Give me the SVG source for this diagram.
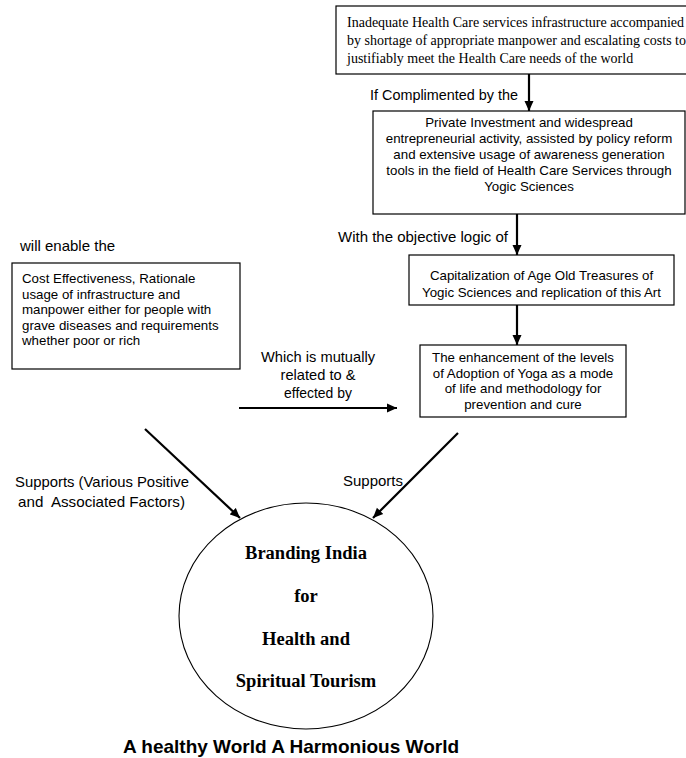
<svg xmlns="http://www.w3.org/2000/svg" width="686" height="758" viewBox="0 0 686 758">
  <style>
    .box { fill: #ffffff; stroke: #000000; stroke-width: 1.2; }
    .serif { font-family: "Liberation Serif", "Times New Roman", serif; font-size: 14px; fill: #000; }
    .body { font-family: "Liberation Sans", Arial, sans-serif; font-size: 13.3px; fill: #000; }
    .label { font-family: "Liberation Sans", Arial, sans-serif; font-size: 15px; fill: #000; }
    .title { font-family: "Liberation Serif", "Times New Roman", serif; font-size: 18.5px; font-weight: bold; fill: #000; }
    .footer { font-family: "Liberation Sans", Arial, sans-serif; font-size: 19px; font-weight: bold; fill: #000; }
    .link { fill: none; stroke: #000000; stroke-width: 2.2; }
    .mid { text-anchor: middle; }
  </style>
  <defs>
    <marker id="head" markerUnits="userSpaceOnUse" markerWidth="12" markerHeight="10" refX="10" refY="5" orient="auto">
      <path d="M0,0.5 L10,5 L0,9.5 Z" fill="#000000"/>
    </marker>
  </defs>

  <rect width="686" height="758" fill="#ffffff"/>

  <!-- problem statement -->
  <g id="node-problem">
    <rect class="box" x="336" y="6" width="352" height="68"/>
    <text class="serif" x="347" y="27">Inadequate Health Care services infrastructure accompanied</text>
    <text class="serif" x="347" y="45">by shortage of appropriate manpower and escalating costs to</text>
    <text class="serif" x="347" y="63">justifiably meet the Health Care needs of the world</text>
  </g>

  <!-- private investment -->
  <g id="node-investment">
    <rect class="box" x="373" y="111" width="312" height="103"/>
    <text class="body mid" x="529" y="127">Private Investment and widespread</text>
    <text class="body mid" x="529" y="143">entrepreneurial activity, assisted by policy reform</text>
    <text class="body mid" x="529" y="159">and extensive usage of awareness generation</text>
    <text class="body mid" x="529" y="175">tools in the field of Health Care Services through</text>
    <text class="body mid" x="529" y="191">Yogic Sciences</text>
  </g>

  <!-- capitalization -->
  <g id="node-capitalization">
    <rect class="box" x="409" y="255" width="265" height="50"/>
    <text class="body mid" x="541.5" y="280">Capitalization of Age Old Treasures of</text>
    <text class="body mid" x="541.5" y="297">Yogic Sciences and replication of this Art</text>
  </g>

  <!-- adoption of yoga -->
  <g id="node-adoption">
    <rect class="box" x="420" y="345" width="206" height="72"/>
    <text class="body mid" x="523" y="362">The enhancement of the levels</text>
    <text class="body mid" x="523" y="377.7">of Adoption of Yoga as a mode</text>
    <text class="body mid" x="523" y="393.4">of life and methodology for</text>
    <text class="body mid" x="523" y="409">prevention and cure</text>
  </g>

  <!-- cost effectiveness -->
  <g id="node-cost">
    <rect class="box" x="12" y="263" width="228" height="106"/>
    <text class="body" x="22" y="283">Cost Effectiveness, Rationale</text>
    <text class="body" x="22" y="298.5">usage of infrastructure and</text>
    <text class="body" x="22" y="314">manpower either for people with</text>
    <text class="body" x="22" y="329.5">grave diseases and requirements</text>
    <text class="body" x="22" y="345">whether poor or rich</text>
  </g>

  <!-- central goal -->
  <g id="node-branding">
    <ellipse cx="306" cy="616" rx="127" ry="113" fill="#ffffff" stroke="#000000" stroke-width="1.1"/>
    <text class="title mid" x="306" y="559">Branding India</text>
    <text class="title mid" x="306" y="602">for</text>
    <text class="title mid" x="306" y="645">Health and</text>
    <text class="title mid" x="306" y="687">Spiritual Tourism</text>
  </g>

  <!-- connectors -->
  <g id="connectors">
    <line class="link" x1="529" y1="74" x2="529" y2="111" marker-end="url(#head)"/>
    <line class="link" x1="517" y1="214" x2="517" y2="255" marker-end="url(#head)"/>
    <line class="link" x1="517" y1="305" x2="517" y2="345" marker-end="url(#head)"/>
    <line class="link" x1="239" y1="408" x2="397" y2="408" marker-end="url(#head)"/>
    <line class="link" x1="145" y1="429" x2="240" y2="518" marker-end="url(#head)"/>
    <line class="link" x1="458" y1="433" x2="373" y2="518" marker-end="url(#head)"/>
  </g>

  <!-- connector labels -->
  <g id="labels">
    <text class="label" x="370" y="100" textLength="148" lengthAdjust="spacingAndGlyphs">If Complimented by the</text>
    <text class="label" x="338" y="242" textLength="170" lengthAdjust="spacingAndGlyphs">With the objective logic of</text>
    <text class="label" x="20" y="251">will enable the</text>
    <text class="label mid" x="318" y="362" textLength="114" lengthAdjust="spacingAndGlyphs">Which is mutually</text>
    <text class="label mid" x="318" y="380" textLength="75" lengthAdjust="spacingAndGlyphs">related to &amp;</text>
    <text class="label mid" x="318" y="398" textLength="68" lengthAdjust="spacingAndGlyphs">effected by</text>
    <text class="label" x="15" y="487" textLength="174" lengthAdjust="spacingAndGlyphs">Supports (Various Positive</text>
    <text class="label" x="18" y="507" textLength="167" lengthAdjust="spacingAndGlyphs" xml:space="preserve">and  Associated Factors)</text>
    <text class="label" x="343" y="486" textLength="60" lengthAdjust="spacingAndGlyphs">Supports</text>
  </g>

  <text class="footer" x="123" y="753">A healthy World A Harmonious World</text>
</svg>
